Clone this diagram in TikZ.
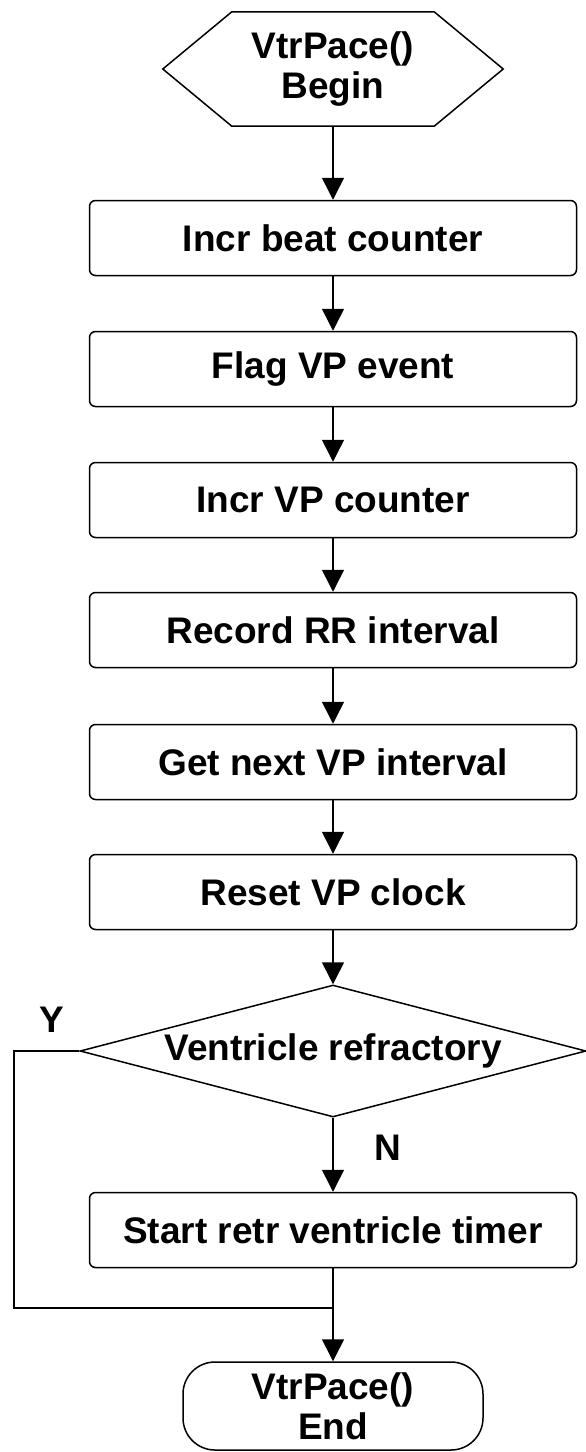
\documentclass[tikz,border=0pt]{standalone}
\usepackage{fontspec}
\setmainfont{Liberation Sans}
\usetikzlibrary{shapes.geometric,arrows.meta}
\tikzset{
 every node/.style={font=\bfseries\fontsize{37}{40}\selectfont},
 stepbox/.style={draw,line width=1.5pt,rounded corners=6pt,minimum width=487pt,minimum height=75pt,inner sep=0pt},
 test/.style={draw,diamond,line width=1.5pt,aspect=3.85,minimum width=506pt,minimum height=132pt,inner sep=0pt},
 term/.style={draw,line width=1.5pt,rounded corners=32pt,minimum width=300pt,minimum height=88pt,inner sep=0pt,align=center},
 flow/.style={line width=1.5pt,-{Triangle[width=22pt,length=22pt]}}
}
\begin{document}
\begin{tikzpicture}[x=1pt,y=-1pt]
 \useasboundingbox (0,0) rectangle (586,1452);
 % entry
 \node[minimum width=340pt,minimum height=114pt,inner sep=0pt,align=center] (start) at (333,69) {VtrPace()\\Begin};
 \draw[line width=1.5pt] (start.west) -- ([xshift=69pt]start.north west) -- ([xshift=-69pt]start.north east)
   -- (start.east) -- ([xshift=-69pt]start.south east) -- ([xshift=69pt]start.south west) -- cycle;
 % steps
 \node[stepbox] (beat) at (333,238) {Incr beat counter};
 \node[stepbox] (flag) at (333,369) {Flag VP event};
 \node[stepbox] (vpcnt) at (333,500) {Incr VP counter};
 \node[stepbox] (rr) at (333,630) {Record RR interval};
 \node[stepbox] (next) at (333,762) {Get next VP interval};
 \node[stepbox] (clock) at (333,892) {Reset VP clock};
 \node[test] (refr) at (333,1051) {Ventricle refractory};
 \node[stepbox] (timer) at (333,1230) {Start retr ventricle timer};
 \node[term] (done) at (333,1406) {VtrPace()\\End};
 \node (ylab) at (52,1020) {Y};
 \node (nlab) at (388,1148) {N};
 \coordinate (corner) at (14,1308);
 \coordinate (join) at (333,1308);
 % links
 \draw[flow] (start) -- (beat);
 \draw[flow] (beat) -- (flag);
 \draw[flow] (flag) -- (vpcnt);
 \draw[flow] (vpcnt) -- (rr);
 \draw[flow] (rr) -- (next);
 \draw[flow] (next) -- (clock);
 \draw[flow] (clock) -- (refr);
 \draw[flow] (refr) -- (timer);
 \draw[flow] (timer) -- (done);
 \draw[line width=1.5pt] (refr.west) -| (corner) -- (join);
\end{tikzpicture}
\end{document}
